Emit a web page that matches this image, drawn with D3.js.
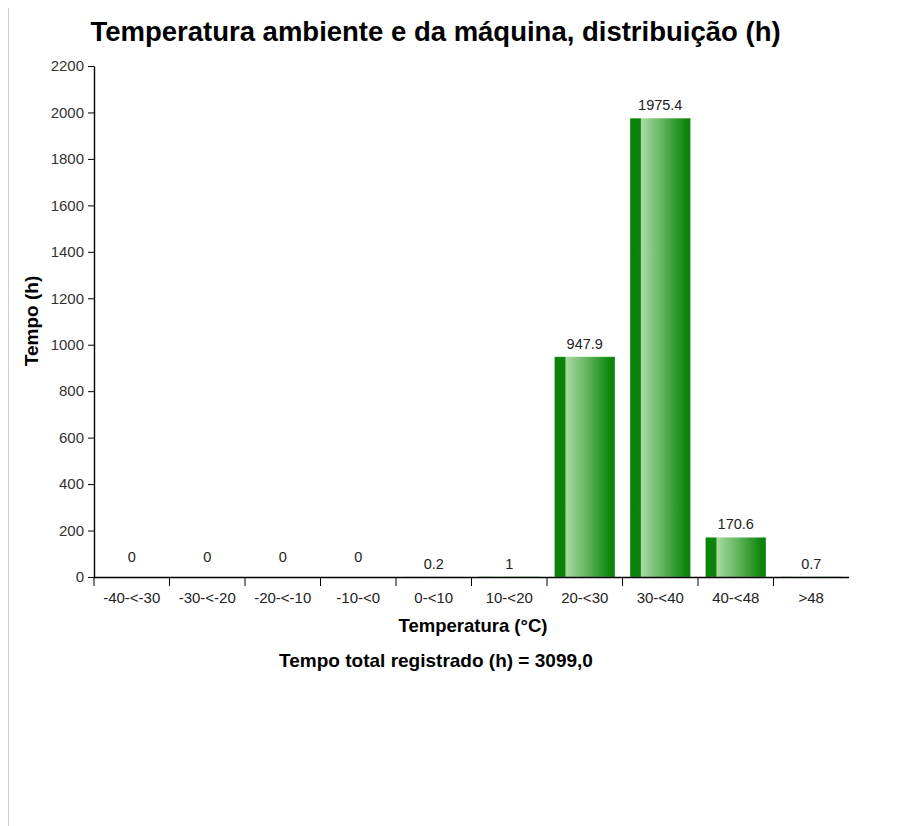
<!DOCTYPE html>
<html>
<head>
<meta charset="utf-8">
<script src="https://cdn.jsdelivr.net/npm/d3@7"></script>
<style>
  html, body { margin: 0; padding: 0; background: #fff; }
  svg { display: block; }
  text { font-family: "Liberation Sans", Arial, sans-serif; }
</style>
</head>
<body>
<svg id="chart" width="910" height="826"></svg>
<script>
const categories = ["-40-<-30", "-30-<-20", "-20-<-10", "-10-<0", "0-<10", "10-<20", "20-<30", "30-<40", "40-<48", ">48"];
const values = [0, 0, 0, 0, 0.2, 1, 947.9, 1975.4, 170.6, 0.7];
const valueLabels = ["0", "0", "0", "0", "0.2", "1", "947.9", "1975.4", "170.6", "0.7"];
const yTicks = [0, 200, 400, 600, 800, 1000, 1200, 1400, 1600, 1800, 2000, 2200];
const title = "Temperatura ambiente e da máquina, distribuição (h)";
const xTitle = "Temperatura (°C)";
const yTitle = "Tempo (h)";
const footer = "Tempo total registrado (h) = 3099,0";

const svg = d3.select("#chart");
const W = 910, H = 826;
const FONT = "'Liberation Sans', Arial, sans-serif";

// left gray border
svg.append("line").attr("x1", 8.5).attr("x2", 8.5).attr("y1", 8).attr("y2", H)
  .attr("stroke", "#cccccc").attr("stroke-width", 1);

const defs = svg.append("defs");
const grad = defs.append("linearGradient").attr("id", "barGrad")
  .attr("x1", "0%").attr("x2", "100%").attr("y1", "0%").attr("y2", "0%");
[["0%", "#0a820a"], ["17%", "#0a840a"], ["19%", "#a9d9a3"], ["55%", "#5fb35a"], ["92%", "#0d860d"], ["100%", "#0a800a"]]
  .forEach(([o, c]) => grad.append("stop").attr("offset", o).attr("stop-color", c));

const x = d3.scaleBand().domain(categories).range([94, 849]).paddingInner(0.2).paddingOuter(0.1);
const y = d3.scaleLinear().domain([0, 2200]).range([577, 66]);

// bars
svg.append("g").selectAll("rect").data(values).join("rect")
  .attr("x", (d, i) => x(categories[i]))
  .attr("width", x.bandwidth())
  .attr("y", d => y(d))
  .attr("height", d => y(0) - y(d))
  .attr("fill", "url(#barGrad)")
  .attr("stroke", d => d > 0 ? "#c8e6c4" : "none")
  .attr("stroke-width", 0.5)
  .attr("stroke-opacity", 0.6);

// value labels
svg.append("g").selectAll("text").data(values).join("text")
  .attr("x", (d, i) => x(categories[i]) + x.bandwidth() / 2)
  .attr("y", d => y(d) - (d === 0 ? 15 : 8))
  .attr("text-anchor", "middle")
  .style("font-size", "14.5px")
  .attr("fill", "#222")
  .text((d, i) => valueLabels[i]);

// y axis
const yAxis = svg.append("g").attr("transform", "translate(94,0)")
  .call(d3.axisLeft(y).tickValues(yTicks).tickFormat(d3.format("d")).tickSize(6).tickPadding(4).tickSizeOuter(0));
yAxis.selectAll("text").style("font-size", "15px").attr("fill", "#333").style("font-family", FONT);
yAxis.select(".domain").attr("stroke", "#000").attr("stroke-width", 1.4);
yAxis.selectAll(".tick line").attr("stroke", "#000");

// x axis
const xAxisG = svg.append("g").attr("transform", "translate(0,577)");
xAxisG.append("line").attr("x1", 93.3).attr("x2", 849).attr("y1", 0.5).attr("y2", 0.5).attr("stroke", "#000").attr("stroke-width", 1.4);
const step = x.step();
const bandStart = d => x(d) - x.paddingInner() * step / 2;
xAxisG.selectAll(".tk").data(categories).join("line")
  .attr("x1", d => bandStart(d)).attr("x2", d => bandStart(d))
  .attr("y1", 0).attr("y2", 9).attr("stroke", "#000");
xAxisG.selectAll(".tl").data(categories).join("text")
  .attr("x", d => x(d) + x.bandwidth() / 2)
  .attr("y", 26)
  .attr("text-anchor", "middle")
  .style("font-size", "15px")
  .attr("fill", "#222")
  .text(d => d);

// titles
svg.append("text").attr("x", 435.5).attr("y", 41).attr("text-anchor", "middle")
  .style("font-size", "27.5px").attr("font-weight", "bold").attr("fill", "#000").text(title);
svg.append("text").attr("x", 473).attr("y", 632).attr("text-anchor", "middle")
  .style("font-size", "18.5px").attr("font-weight", "bold").attr("fill", "#000").text(xTitle);
svg.append("text").attr("x", 436).attr("y", 667).attr("text-anchor", "middle")
  .style("font-size", "19px").attr("font-weight", "bold").attr("fill", "#000").text(footer);
svg.append("text").attr("transform", "translate(38,321) rotate(-90)").attr("text-anchor", "middle")
  .style("font-size", "19px").attr("font-weight", "bold").attr("fill", "#000").text(yTitle);
</script>
</body>
</html>
